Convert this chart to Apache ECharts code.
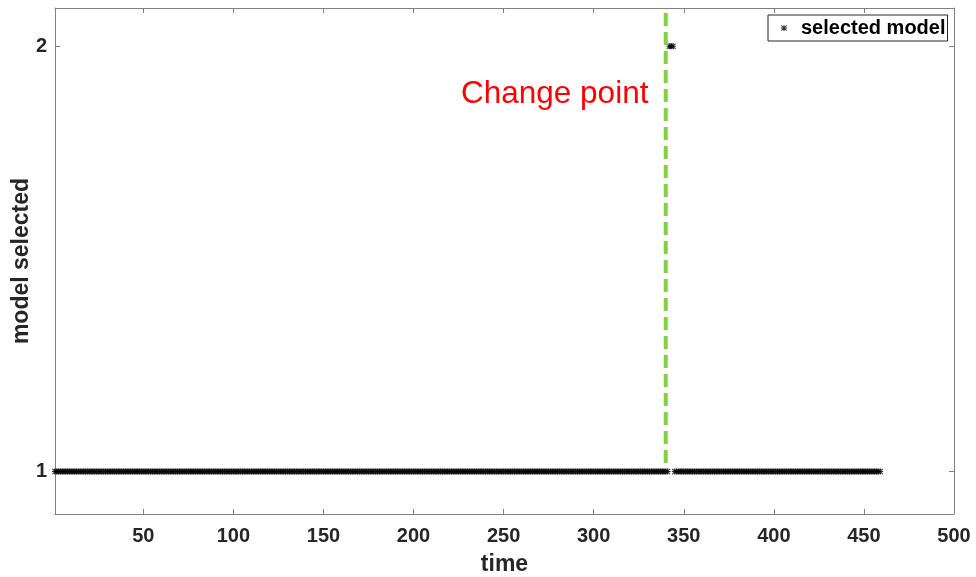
<!DOCTYPE html>
<html>
<head>
<meta charset="utf-8">
<script src="https://cdn.jsdelivr.net/npm/echarts@6/dist/echarts.min.js"></script>
<style>
  html, body { margin: 0; padding: 0; background: #fff; }
  #chart { width: 976px; height: 577px; }
</style>
</head>
<body>
<div id="chart"></div>
<script>
// Selected model per time step, stored as runs: [first time, last time, model]
const modelRuns = [[1, 341, 1], [342, 344, 2], [345, 459, 1]];
const xTicks = [50, 100, 150, 200, 250, 300, 350, 400, 450, 500];
const yTicks = [1, 2];
const xRange = [1, 500];
const yRange = [0.9, 2.09];
const changePoint = 340;
const changeLineSpan = [1.02, 2.09];
const seriesName = 'selected model';
const changeLabel = 'Change point';

// expand the runs into one [time, model] point per step
const points = [];
modelRuns.forEach(([from, to, model]) => {
  for (let t = from; t <= to; t++) points.push([t, model]);
});

const FONT = '"Liberation Sans", Arial, Helvetica, sans-serif';
const AXIS_COLOR = '#808080';
const TEXT_COLOR = '#262626';
// eight-armed asterisk marker
const ASTERISK = 'path://M4.2 0H5.8V10H4.2Z M0 4.2H10V5.8H0Z M1.1 0L10 8.9L8.9 10L0 1.1Z M8.9 0L10 1.1L1.1 10L0 8.9Z';

function xAxis(position, withLabels) {
  return {
    type: 'value', position, min: xRange[0], max: xRange[1],
    axisLine: { show: true, onZero: false, lineStyle: { color: AXIS_COLOR, width: 1 } },
    axisTick: { show: true, inside: true, length: 5, customValues: xTicks, lineStyle: { color: AXIS_COLOR } },
    axisLabel: withLabels ? {
      show: true, customValues: xTicks, margin: 12,
      fontFamily: FONT, fontWeight: 'bold', fontSize: 20, color: TEXT_COLOR
    } : { show: false },
    splitLine: { show: false },
    name: withLabels ? 'time' : '', nameLocation: 'middle', nameGap: 39, nameMoveOverlap: false,
    nameTextStyle: { fontFamily: FONT, fontWeight: 'bold', fontSize: 23, color: TEXT_COLOR }
  };
}
function yAxis(position, withLabels) {
  return {
    type: 'value', position, min: yRange[0], max: yRange[1],
    axisLine: { show: true, onZero: false, lineStyle: { color: AXIS_COLOR, width: 1 } },
    axisTick: { show: true, inside: true, length: 5, customValues: yTicks, lineStyle: { color: AXIS_COLOR } },
    axisLabel: withLabels ? {
      show: true, customValues: yTicks, margin: 8,
      fontFamily: FONT, fontWeight: 'bold', fontSize: 20, color: TEXT_COLOR
    } : { show: false },
    splitLine: { show: false },
    name: withLabels ? 'model selected' : '', nameLocation: 'middle', nameGap: 22, nameMoveOverlap: false,
    nameTextStyle: { fontFamily: FONT, fontWeight: 'bold', fontSize: 23, color: TEXT_COLOR }
  };
}

const chart = echarts.init(document.getElementById('chart'), null, { renderer: 'canvas' });
chart.setOption({
  animation: false,
  backgroundColor: '#fff',
  grid: { left: 55, top: 8, right: 22, bottom: 63, containLabel: false, outerBoundsMode: 'none' },
  xAxis: [xAxis('bottom', true), xAxis('top', false)],
  yAxis: [yAxis('left', true), yAxis('right', false)],
  legend: {
    data: [{ name: seriesName, icon: ASTERISK }],
    left: 768, top: 15,
    padding: [3, 2, 3, 13],
    itemWidth: 24, itemHeight: 6,
    backgroundColor: '#fff', borderColor: TEXT_COLOR, borderWidth: 1, borderRadius: 0,
    textStyle: { fontFamily: FONT, fontWeight: 'bold', fontSize: 20, color: '#000' }
  },
  series: [
    {
      name: seriesName, type: 'scatter',
      xAxisIndex: 0, yAxisIndex: 0,
      data: points,
      symbol: ASTERISK, symbolSize: 6,
      itemStyle: { color: '#000' },
      emphasis: { disabled: true }
    },
    {
      name: 'change', type: 'line',
      xAxisIndex: 0, yAxisIndex: 0,
      data: [[changePoint, changeLineSpan[0]], [changePoint, changeLineSpan[1]]],
      symbol: 'none', silent: true,
      lineStyle: { color: '#82cf4a', width: 4, type: [13, 6] },
      z: 3
    }
  ],
  graphic: [{
    type: 'text', left: 461, top: 78,
    style: { text: changeLabel, font: '31.5px ' + FONT, fill: '#ff0000' }
  }]
});
</script>
</body>
</html>
